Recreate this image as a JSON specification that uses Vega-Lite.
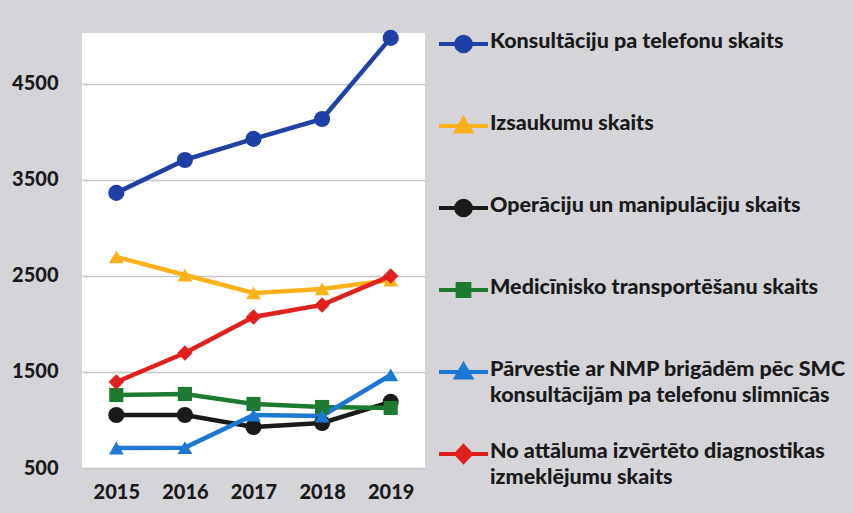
{
  "$schema": "https://vega.github.io/schema/vega-lite/v6.json",
  "width": 343,
  "height": 435,
  "autosize": {"type": "none"},
  "padding": {"left": 82, "top": 33, "right": 428, "bottom": 45},
  "background": "#d5d5d9",
  "config": {
    "view": {"fill": "#ffffff", "stroke": null},
    "font": "Lato"
  },
  "data": {
    "values": [
      {"year": "2015", "series": "Konsultāciju pa telefonu skaits", "value": 3365},
      {"year": "2016", "series": "Konsultāciju pa telefonu skaits", "value": 3708},
      {"year": "2017", "series": "Konsultāciju pa telefonu skaits", "value": 3927},
      {"year": "2018", "series": "Konsultāciju pa telefonu skaits", "value": 4135},
      {"year": "2019", "series": "Konsultāciju pa telefonu skaits", "value": 4979},
      {"year": "2015", "series": "Izsaukumu skaits", "value": 2698},
      {"year": "2016", "series": "Izsaukumu skaits", "value": 2510},
      {"year": "2017", "series": "Izsaukumu skaits", "value": 2323},
      {"year": "2018", "series": "Izsaukumu skaits", "value": 2365},
      {"year": "2019", "series": "Izsaukumu skaits", "value": 2458},
      {"year": "2015", "series": "Operāciju un manipulāciju skaits", "value": 1052},
      {"year": "2016", "series": "Operāciju un manipulāciju skaits", "value": 1052},
      {"year": "2017", "series": "Operāciju un manipulāciju skaits", "value": 927},
      {"year": "2018", "series": "Operāciju un manipulāciju skaits", "value": 969},
      {"year": "2019", "series": "Operāciju un manipulāciju skaits", "value": 1188},
      {"year": "2015", "series": "Medicīnisko transportēšanu skaits", "value": 1260},
      {"year": "2016", "series": "Medicīnisko transportēšanu skaits", "value": 1271},
      {"year": "2017", "series": "Medicīnisko transportēšanu skaits", "value": 1167},
      {"year": "2018", "series": "Medicīnisko transportēšanu skaits", "value": 1135},
      {"year": "2019", "series": "Medicīnisko transportēšanu skaits", "value": 1125},
      {"year": "2015", "series": "Pārvestie ar NMP brigādēm pēc SMC konsultācijām pa telefonu slimnīcās", "value": 708},
      {"year": "2016", "series": "Pārvestie ar NMP brigādēm pēc SMC konsultācijām pa telefonu slimnīcās", "value": 712},
      {"year": "2017", "series": "Pārvestie ar NMP brigādēm pēc SMC konsultācijām pa telefonu slimnīcās", "value": 1052},
      {"year": "2018", "series": "Pārvestie ar NMP brigādēm pēc SMC konsultācijām pa telefonu slimnīcās", "value": 1042},
      {"year": "2019", "series": "Pārvestie ar NMP brigādēm pēc SMC konsultācijām pa telefonu slimnīcās", "value": 1469},
      {"year": "2015", "series": "No attāluma izvērtēto diagnostikas izmeklējumu skaits", "value": 1396},
      {"year": "2016", "series": "No attāluma izvērtēto diagnostikas izmeklējumu skaits", "value": 1698},
      {"year": "2017", "series": "No attāluma izvērtēto diagnostikas izmeklējumu skaits", "value": 2073},
      {"year": "2018", "series": "No attāluma izvērtēto diagnostikas izmeklējumu skaits", "value": 2198},
      {"year": "2019", "series": "No attāluma izvērtēto diagnostikas izmeklējumu skaits", "value": 2500}
    ]
  },
  "encoding": {
    "x": {
      "field": "year", "type": "ordinal",
      "scale": {"type": "point", "padding": 0.5},
      "axis": {"title": null, "labelAngle": 0, "domain": false, "ticks": false, "labelPadding": 14,
               "labelFont": "Lato", "labelFontSize": 20, "labelFontWeight": 900, "labelColor": "#1a1a1a", "grid": false}
    },
    "y": {
      "field": "value", "type": "quantitative",
      "scale": {"domain": [500, 5030], "nice": false, "zero": false},
      "axis": {"title": null, "values": [500, 1500, 2500, 3500, 4500], "format": "d", "domain": false, "ticks": false, "labelPadding": 24,
               "labelFont": "Lato", "labelFontSize": 20, "labelFontWeight": 900, "labelColor": "#1a1a1a",
               "grid": true, "gridColor": "#c4c4c4", "gridWidth": 1.5}
    },
    "color": {
      "field": "series", "type": "nominal",
      "scale": {
        "domain": ["Konsultāciju pa telefonu skaits", "Izsaukumu skaits", "Operāciju un manipulāciju skaits", "Medicīnisko transportēšanu skaits", "Pārvestie ar NMP brigādēm pēc SMC konsultācijām pa telefonu slimnīcās", "No attāluma izvērtēto diagnostikas izmeklējumu skaits"],
        "range": ["#1f40a4", "#fdb21c", "#1a1a1a", "#1e7a30", "#1c78d2", "#e0201c"]
      },
      "legend": {
        "title": null, "orient": "none", "legendX": 355, "legendY": -25,
        "symbolSize": 2400, "symbolStrokeWidth": 4, "labelOffset": 0, "rowPadding": 10, "clipHeight": 72,
        "labelFont": "Lato", "labelFontSize": 21.5, "labelFontWeight": 900, "labelColor": "#1a1a1a", "labelLimit": 420,
        "labelBaseline": "top",
        "labelExpr": "datum.label == 'Pārvestie ar NMP brigādēm pēc SMC konsultācijām pa telefonu slimnīcās' ? ['Pārvestie ar NMP brigādēm pēc SMC', 'konsultācijām pa telefonu slimnīcās'] : datum.label == 'No attāluma izvērtēto diagnostikas izmeklējumu skaits' ? ['No attāluma izvērtēto diagnostikas', 'izmeklējumu skaits'] : datum.label",
        "encode": {
          "symbols": {"update": {
            "shape": {"signal": "['M-1,0H1M0.3,0A0.3,0.3 0 1,1 -0.3,0A0.3,0.3 0 1,1 0.3,0Z', 'M-1,0H1M0,-0.3L0.3,0.22L-0.3,0.22Z', 'M-1,0H1M0.3,0A0.3,0.3 0 1,1 -0.3,0A0.3,0.3 0 1,1 0.3,0Z', 'M-1,0H1M-0.24,-0.24H0.24V0.24H-0.24Z', 'M-1,0H1M0,-0.3L0.3,0.22L-0.3,0.22Z', 'M-1,0H1M0,-0.32L0.3,0L0,0.32L-0.3,0Z'][indexof(['Konsultāciju pa telefonu skaits', 'Izsaukumu skaits', 'Operāciju un manipulāciju skaits', 'Medicīnisko transportēšanu skaits', 'Pārvestie ar NMP brigādēm pēc SMC konsultācijām pa telefonu slimnīcās', 'No attāluma izvērtēto diagnostikas izmeklējumu skaits'], datum.value)]"},
            "fill": {"scale": "color", "field": "value"},
            "stroke": {"scale": "color", "field": "value"},
            "strokeWidth": {"value": 4},
            "opacity": {"value": 1}
          }},
          "labels": {"update": {"dy": {"value": -13}, "lineHeight": {"value": 26}}}
        }
      }
    }
  },
  "layer": [
    {"mark": {"type": "line", "strokeWidth": 4.5}},
    {
      "mark": {"type": "point", "filled": true, "opacity": 1},
      "encoding": {
        "shape": {
          "condition": [
            {"test": "datum.series == 'Izsaukumu skaits' || datum.series == 'Pārvestie ar NMP brigādēm pēc SMC konsultācijām pa telefonu slimnīcās'", "value": "triangle-up"},
            {"test": "datum.series == 'Medicīnisko transportēšanu skaits'", "value": "square"},
            {"test": "datum.series == 'No attāluma izvērtēto diagnostikas izmeklējumu skaits'", "value": "diamond"}
          ],
          "value": "circle"
        },
        "size": {
          "condition": [
            {"test": "datum.series == 'Izsaukumu skaits' || datum.series == 'Pārvestie ar NMP brigādēm pēc SMC konsultācijām pa telefonu slimnīcās'", "value": 220},
            {"test": "datum.series == 'Medicīnisko transportēšanu skaits'", "value": 200},
            {"test": "datum.series == 'No attāluma izvērtēto diagnostikas izmeklējumu skaits'", "value": 240}
          ],
          "value": 260
        }
      }
    }
  ]
}
